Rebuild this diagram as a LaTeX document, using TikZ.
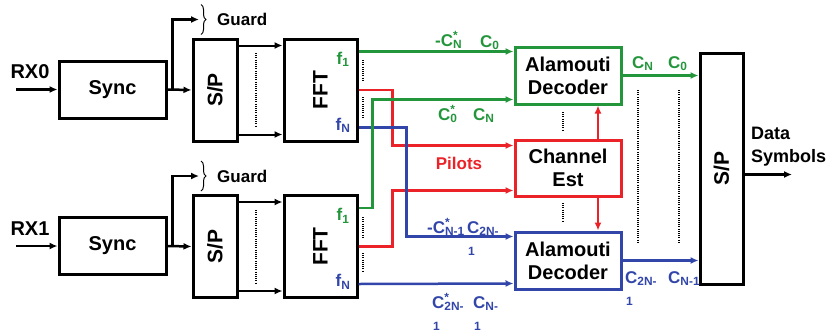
\documentclass[tikz,border=0pt]{standalone}
\usepackage{fontspec}
\setmainfont{Liberation Sans}
\usepackage{xcolor}
\usepackage{graphicx}
\usepackage{tikz}
\usetikzlibrary{arrows.meta, positioning, calc, decorations.pathreplacing}

\definecolor{dgreen}{RGB}{35,150,60}
\definecolor{dred}{RGB}{235,35,40}
\definecolor{dblue}{RGB}{50,70,170}

% symbol with a star over its subscript, and the same wrapped onto a second line
\newcommand{\Cs}[2]{C\rlap{\textsuperscript{#2}}\textsubscript{#1}}
\newcommand{\Cw}[2]{\rlap{\hspace{1pt}\raisebox{-22pt}{\fontsize{12}{12}\selectfont\bfseries 1}}C\rlap{\textsuperscript{#2}}\textsubscript{#1}}

\begin{document}
\begin{tikzpicture}[x=1pt, y=-1pt,
  box/.style={rectangle, draw, line width=3pt, inner sep=0pt, align=center, font=\fontsize{20}{23}\selectfont\bfseries},
  arr/.style={-{Latex[length=8pt,width=7pt]}, line width=2.5pt},
  lbl/.style={inner sep=0pt, font=\fontsize{17}{19}\selectfont\bfseries},
  dots/.style={line width=1.3pt, dash pattern=on 1pt off 1.2pt}]
  \useasboundingbox (0,0) rectangle (829,335);

  % two receive chains
  \foreach \i/\y in {0/89.5, 1/246} {
    \node[box, minimum width=107pt, minimum height=57pt] (sync\i) at (112.5,\y) {Sync};
    \node[box, minimum width=44pt, minimum height=102pt] (sp\i) at (215,\y+0.5) {\rotatebox{90}{\fontsize{21}{23}\selectfont S/P}};
    \node[box, minimum width=73pt, minimum height=102pt] (fft\i) at (320.5,\y+0.5) {\rotatebox{90}{\fontsize{21}{23}\selectfont FFT}};
    \coordinate (rx\i) at (16,\y);
    \node[lbl, font=\fontsize{20}{22}\selectfont\bfseries] (rxl\i) at (30,\y-17.5) {RX\i};
    \node[lbl, anchor=west] (grd\i) at (217,\y-70) {Guard};
    \coordinate (gb\i) at ($(grd\i.west)+(-18,0)$);
    \draw[line width=1pt, decorate, decoration={brace, amplitude=5pt}] ($(grd\i.west)+(-16,-15)$) -- ($(grd\i.west)+(-16,15)$);
    \draw[arr] (rx\i) -- (sync\i.west);
    \draw[arr] (sync\i.east) -- (sp\i.west);
    \draw[arr] ([xshift=5pt]sync\i.east) |- (gb\i);
    \draw[arr, line width=2pt] ([yshift=-8pt]sp\i.north east) -- ([yshift=-8pt]fft\i.north west);
    \draw[arr, line width=2pt] ([yshift=8pt]sp\i.south east) -- ([yshift=8pt]fft\i.south west);
    \node[lbl, text=dgreen] (fa\i) at (343,\y-30) {f\textsubscript{1}};
    \node[lbl, text=dblue] (fb\i) at (343,\y+36) {f\textsubscript{N}};
  }

  % decoders and channel estimation
  \node[box, draw=dgreen, minimum width=106pt, minimum height=57pt] (dec0) at (568,75.5) {Alamouti\\Decoder};
  \node[box, draw=dred, minimum width=106pt, minimum height=56pt] (est) at (568,168) {Channel\\Est};
  \node[box, draw=dblue, minimum width=106pt, minimum height=57pt] (dec1) at (568,260.5) {Alamouti\\Decoder};
  \node[box, minimum width=43pt, minimum height=231pt] (spo) at (721.5,168.5) {\rotatebox{90}{\fontsize{21}{23}\selectfont S/P}};
  \coordinate (dout) at (792,162.5);
  \node[lbl, anchor=west, align=left, font=\fontsize{18}{23}\selectfont\bfseries] (data) at (751,147) {Data\\Symbols};

  % connectors
  \draw[arr, dred] (fft0.east) -- ++(34,0) |- ([yshift=-7pt]est.north west);
  \draw[arr, dred] (fft1.east) -- ++(34,0) |- ([yshift=7pt]est.south west);
  \draw[arr, dblue] ([yshift=15pt]fft0.south east) -- ++(48,0) |- ([yshift=-6pt]dec1.north west);
  \draw[arr, dblue] ([yshift=15pt]fft1.south east) -- ([yshift=7pt]dec1.south west);
  \draw[arr, dgreen] ([yshift=-14pt]fft0.north east) -- ([yshift=-6pt]dec0.north west);
  \draw[arr, dgreen] ([yshift=-14pt]fft1.north east) -- ++(14,0) |- ([yshift=6pt]dec0.south west);
  \draw[arr, dred] ([xshift=30pt]est.north) -- ([xshift=30pt]dec0.south);
  \draw[arr, dred] ([xshift=30pt]est.south) -- ([xshift=30pt]dec1.north);
  \draw[arr, dgreen] (dec0.east) -- (dec0.east -| spo.west);
  \draw[arr, dblue] (dec1.east) -- (dec1.east -| spo.west);
  \draw[arr] ([yshift=-6pt]spo.east) -- ([yshift=-6pt]spo.east -| dout);

  % dotted lines
  \draw[dots] (256,53) -- (256,127);
  \draw[dots] (256,210) -- (256,283);
  \draw[dots] (363,60) -- (363,80);
  \draw[dots] (363,97) -- (363,117);
  \draw[dots] (363,217) -- (363,237);
  \draw[dots] (363,253) -- (363,272);
  \draw[dots] (563,112) -- (563,130);
  \draw[dots] (563,203) -- (563,222);
  \draw[dots] (638,90) -- (638,243);
  \draw[dots] (679,90) -- (679,243);

  % symbol labels
  \node[lbl, text=dgreen, anchor=base west] (s1) at (435,46) {-\Cs{N}{*}};
  \node[lbl, text=dgreen, anchor=base west] (s2) at (480,47) {C\textsubscript{0}};
  \node[lbl, text=dgreen, anchor=base west] (s3) at (438,120) {\Cs{0}{*}};
  \node[lbl, text=dgreen, anchor=base west] (s4) at (473,120) {C\textsubscript{N}};
  \node[lbl, text=dred] (pil) at (459,163) {Pilots};
  \node[lbl, text=dblue, anchor=base west] (s5) at (427,233) {-\Cs{N-1}{*}};
  \node[lbl, text=dblue, anchor=base west] (s6) at (467,233) {\Cw{2N-}{}};
  \node[lbl, text=dblue, anchor=base west] (s7) at (432,308) {\Cw{2N-}{*}};
  \node[lbl, text=dblue, anchor=base west] (s8) at (473,308) {\Cw{N-}{}};
  \node[lbl, text=dgreen, anchor=base west] (s9) at (632,68) {C\textsubscript{N}};
  \node[lbl, text=dgreen, anchor=base west] (s10) at (668,68) {C\textsubscript{0}};
  \node[lbl, text=dblue, anchor=base west] (s11) at (625,283) {\Cw{2N-}{}};
  \node[lbl, text=dblue, anchor=base west] (s12) at (668,283) {C\textsubscript{N-1}};
\end{tikzpicture}
\end{document}
